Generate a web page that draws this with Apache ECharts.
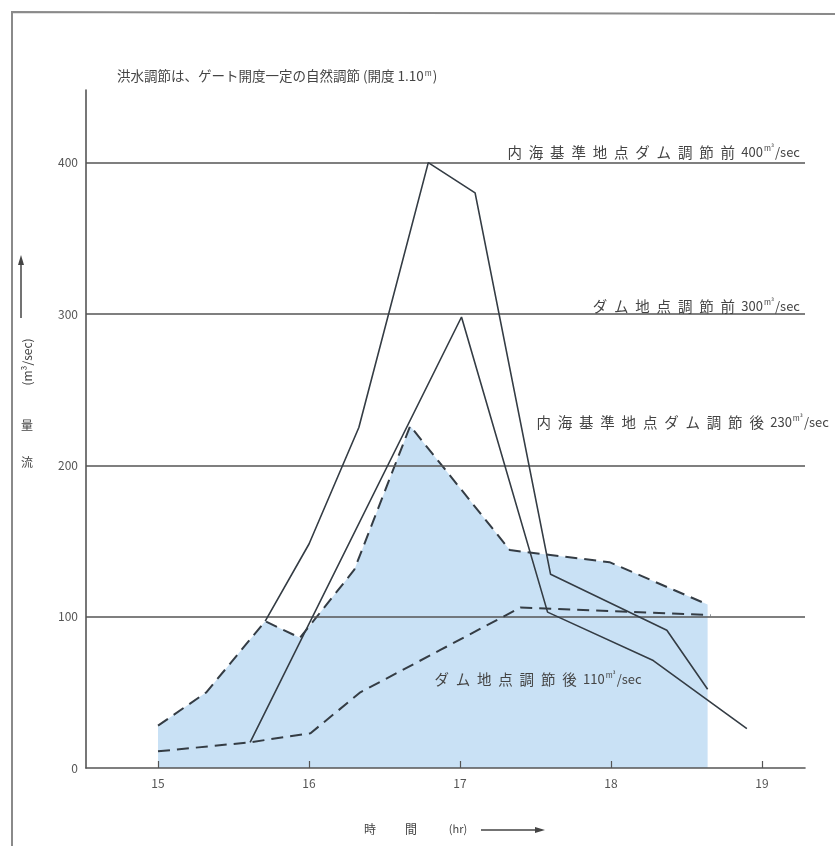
<!DOCTYPE html>
<html><head><meta charset="utf-8">
<script src="https://cdn.jsdelivr.net/npm/echarts@6/dist/echarts.min.js"></script>
<style>html,body{margin:0;padding:0;background:#fff}#c{width:835px;height:846px}</style>
</head><body><div id="c"></div>
<script>
// ---- data (hours, m3/sec) ----
const xTicks = [15, 16, 17, 18, 19];
const yTicks = [0, 100, 200, 300, 400];
const gridValues = [100, 200, 300, 400];
// 内海基準地点 ダム調節前 (solid, peak 400)
const innerPre = [[15.71, 97], [16.0, 148], [16.33, 225], [16.79, 400], [17.10, 380], [17.60, 128], [18.37, 91], [18.64, 52]];
// ダム地点 調節前 (solid, peak 300)
const damPre = [[15.61, 17], [17.01, 298], [17.58, 103], [18.28, 71], [18.90, 26]];
// 内海基準地点 ダム調節後 (dashed, shaded, peak 230)
const innerPost = [[15.0, 28], [15.32, 50], [15.71, 97], [15.94, 86], [16.30, 131], [16.67, 226], [17.33, 144], [17.99, 136], [18.64, 108]];
// ダム地点 調節後 (dashed, 110)
const damPost = [[15.0, 11], [15.61, 17], [16.01, 23], [16.34, 50], [16.87, 78], [17.40, 106], [18.66, 101]];

const titleText = '洪水調節は、ゲート開度一定の自然調節 (開度 1.10{s|m})';
const lbl400 = ['内海基準地点ダム調節前', '400'];
const lbl300 = ['ダム地点調節前', '300'];
const lbl230 = ['内海基準地点ダム調節後', '230'];
const lbl110 = ['ダム地点調節後', '110'];

const INK = '#343c44';
const FONT = '"Noto Sans CJK JP", "Noto Sans", sans-serif';
const rich = {
  s: { fontSize: 7.5, fill: '#444', verticalAlign: 'top', padding: [0, 1, 6, 1], fontFamily: FONT },
  c: { fontSize: 14.5, fill: '#444', padding: [0, 3.4, 0, 3.4], fontFamily: FONT },
  n: { fontSize: 13, fill: '#444', fontFamily: FONT }
};
function spaced(parts) {
  const cjk = parts[0].split('').map(ch => '{c|' + ch + '}').join('');
  return cjk + '{n| ' + parts[1] + '}{s|m³}{n|/sec}';
}
function txt(text, x, y, align, size) {
  return { type: 'text', x: x, y: y, z: 100, silent: true,
    style: { text: text, rich: rich, fill: '#444', font: (size || 12) + 'px ' + FONT, textAlign: align || 'left', textVerticalAlign: 'middle' } };
}

const chart = echarts.init(document.getElementById('c'), null, { renderer: 'canvas' });
chart.setOption({
  animation: false,
  backgroundColor: '#ffffff',
  grid: { left: 86, right: 30, top: 90, bottom: 78 },
  xAxis: {
    type: 'value', min: 14.523, max: 19.285, z: 10,
    axisLine: { show: true, lineStyle: { color: '#555', width: 1.6 } },
    axisTick: { show: true, customValues: xTicks, inside: true, length: 7, lineStyle: { color: '#555', width: 1.2 } },
    axisLabel: { customValues: xTicks, color: '#555', fontSize: 12, margin: 9, fontFamily: FONT },
    splitLine: { show: false }
  },
  yAxis: {
    type: 'value', min: 0, max: 448, z: 10,
    axisLine: { show: true, lineStyle: { color: '#555', width: 1.6 } },
    axisTick: { show: false },
    axisLabel: { customValues: yTicks, color: '#555', fontSize: 12, margin: 8, fontFamily: FONT },
    splitLine: { show: false }
  },
  series: [
    {
      type: 'line', name: '内海基準地点ダム調節後', data: innerPost, symbol: 'none', z: 1,
      lineStyle: { color: INK, width: 2, type: [12, 7] },
      areaStyle: { color: '#c9e1f5', opacity: 1 },
      markLine: {
        silent: true, symbol: 'none', label: { show: false }, z: 3,
        lineStyle: { color: '#555', type: 'solid', width: 1.5 },
        data: gridValues.map(v => ({ yAxis: v }))
      }
    },
    { type: 'line', name: 'ダム地点調節後', data: damPost, symbol: 'none', z: 4,
      lineStyle: { color: INK, width: 2, type: [12, 7] } },
    { type: 'line', name: '内海基準地点ダム調節前', data: innerPre, symbol: 'none', z: 4,
      lineStyle: { color: INK, width: 1.6 } },
    { type: 'line', name: 'ダム地点調節前', data: damPre, symbol: 'none', z: 4,
      lineStyle: { color: INK, width: 1.6 } }
  ],
  graphic: [
    // frame
    { type: 'polyline', silent: true, z: 100, shape: { points: [[12, 846], [12, 12], [835, 14]] }, style: { stroke: '#8a8a8a', lineWidth: 2, fill: null } },
    txt(titleText, 117, 76, 'left', 13.5),
    txt(spaced(lbl400), 800, 152, 'right'),
    txt(spaced(lbl300), 800, 306, 'right'),
    txt(spaced(lbl230), 533, 422, 'left'),
    txt(spaced(lbl110), 431, 679, 'left'),
    // y axis name
    txt('流', 27, 462, 'center', 12),
    txt('量', 27, 425, 'center', 12),
    { type: 'text', x: 27, y: 362, rotation: Math.PI / 2, z: 100, silent: true,
      style: { text: '(m³/sec)', fill: '#444', font: '12px ' + FONT, textAlign: 'center', textVerticalAlign: 'middle' } },
    { type: 'line', silent: true, z: 100, shape: { x1: 21, y1: 318, x2: 21, y2: 262 }, style: { stroke: '#444', lineWidth: 1.5 } },
    { type: 'polygon', silent: true, z: 100, shape: { points: [[21, 255], [18, 265], [24, 265]] }, style: { fill: '#444' } },
    // x axis name
    txt('時', 370, 829, 'center', 12),
    txt('間', 411, 829, 'center', 12),
    txt('(hr)', 458, 829, 'center', 11),
    { type: 'line', silent: true, z: 100, shape: { x1: 481, y1: 830, x2: 538, y2: 830 }, style: { stroke: '#444', lineWidth: 1.5 } },
    { type: 'polygon', silent: true, z: 100, shape: { points: [[545, 830], [535, 827], [535, 833]] }, style: { fill: '#444' } }
  ]
});
</script>
</body></html>
